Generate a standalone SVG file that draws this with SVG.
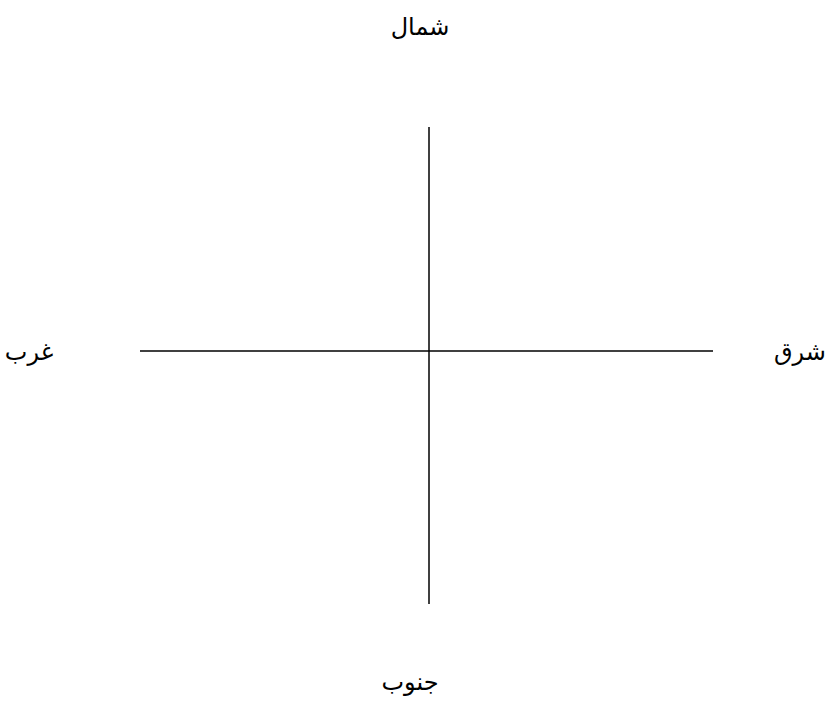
<svg xmlns="http://www.w3.org/2000/svg" width="838" height="707" viewBox="0 0 838 707">
<style>
.lbl{font-family:"DejaVu Serif","DejaVu Sans",serif;font-size:24px;fill:#000;text-anchor:middle;direction:rtl}
.ax{stroke:#000;stroke-width:1.5;fill:none}
</style>
<rect width="838" height="707" fill="#fff"/>
<g id="connectors">
<line class="ax" x1="429" y1="127" x2="429" y2="604"/>
<line class="ax" x1="140" y1="351" x2="713" y2="351"/>
</g>
<g id="north"><text class="lbl" x="420" y="35">شمال</text></g>
<g id="west"><text class="lbl" x="29" y="360">غرب</text></g>
<g id="east"><text class="lbl" x="800" y="360">شرق</text></g>
<g id="south"><text class="lbl" x="410" y="690">جنوب</text></g>
</svg>
